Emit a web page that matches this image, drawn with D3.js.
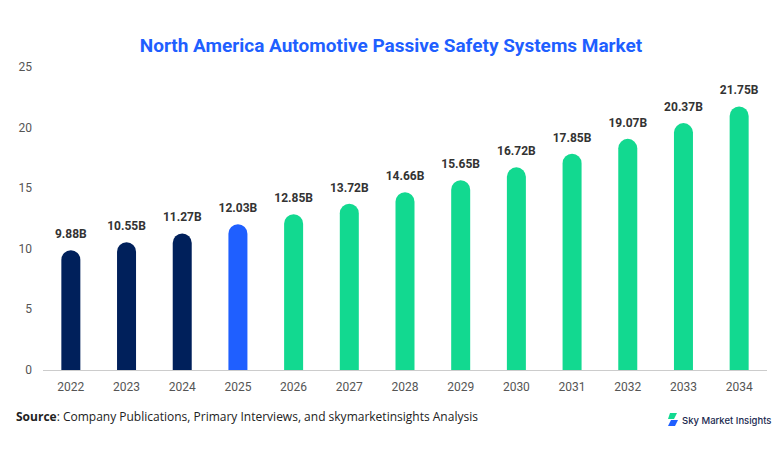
<!DOCTYPE html>
<html lang="en">
<head>
<meta charset="UTF-8">
<script src="https://d3js.org/d3.v7.min.js"></script>
<style>
  body { margin: 0; background: #fff; font-family: Roboto, Arial, sans-serif; }
</style>
</head>
<body>
<svg id="chart" width="782" height="454"></svg>
<script>
const years = ["2022","2023","2024","2025","2026","2027","2028","2029","2030","2031","2032","2033","2034"];
const values = [9.88,10.55,11.27,12.03,12.85,13.72,14.66,15.65,16.72,17.85,19.07,20.37,21.75];
const yTicks = [0,5,10,15,20,25];

const svg = d3.select("#chart");
const x = d3.scaleBand().domain(years).range([43, 767]);
const y = d3.scaleLinear().domain([0, 25]).range([370, 67]);
const barW = 19, r = barW / 2;

function color(yr) {
  const n = +yr;
  if (n < 2025) return "#00205b";
  if (n === 2025) return "#1f5fff";
  return "#12d990";
}

svg.append("text").attr("x", 391).attr("y", 52).attr("text-anchor", "middle")
  .attr("font-size", 19).attr("font-weight", "bold").attr("fill", "#1f5fff")
  .text("North America Automotive Passive Safety Systems Market");

// y ticks
svg.selectAll(".yt").data(yTicks).enter().append("text")
  .attr("x", 32).attr("y", d => y(d) + 4).attr("text-anchor", "end")
  .attr("font-size", 12).attr("fill", "#555").text(d => d);

// baseline
svg.append("line").attr("x1", 43).attr("x2", 767).attr("y1", 370.5).attr("y2", 370.5)
  .attr("stroke", "#ccc");

// bars with rounded tops
svg.selectAll(".bar").data(years).enter().append("path")
  .attr("fill", d => color(d))
  .attr("d", (d, i) => {
    const cx = x(d) + x.bandwidth() / 2, x0 = cx - r, x1 = cx + r;
    const top = y(values[i]), base = y(0);
    return `M${x0},${base}V${top + r}A${r},${r} 0 0 1 ${x1},${top + r}V${base}Z`;
  });

// value labels
svg.selectAll(".lbl").data(years).enter().append("text")
  .attr("x", d => x(d) + x.bandwidth() / 2)
  .attr("y", (d, i) => y(values[i]) - 12)
  .attr("text-anchor", "middle").attr("font-size", 12).attr("font-weight", "bold")
  .attr("fill", "#333").text((d, i) => values[i].toFixed(2) + "B");

// x labels
svg.selectAll(".xl").data(years).enter().append("text")
  .attr("x", d => x(d) + x.bandwidth() / 2).attr("y", 391)
  .attr("text-anchor", "middle").attr("font-size", 12).attr("fill", "#555").text(d => d);

// source
const src = svg.append("text").attr("x", 16).attr("y", 421).attr("font-size", 12)
  .attr("font-family", "'Open Sans', sans-serif").attr("fill", "#222");
src.append("tspan").attr("font-weight", "bold").text("Source");
src.append("tspan").text(": Company Publications, Primary Interviews, and skymarketinsights Analysis");

// logo
const lg = svg.append("g").attr("transform", "translate(668,413)");
lg.append("path").attr("d", "M2,0H9L6,6H0Z").attr("fill", "#12d990");
lg.append("path").attr("d", "M3,7H10L7,13H0Z").attr("fill", "#1f5fff");
svg.append("text").attr("x", 682).attr("y", 424).attr("font-size", 9.5)
  .attr("font-family", "Inter, sans-serif").attr("font-weight", 500)
  .attr("fill", "#1a2a50").text("Sky Market Insights");
</script>
</body>
</html>
